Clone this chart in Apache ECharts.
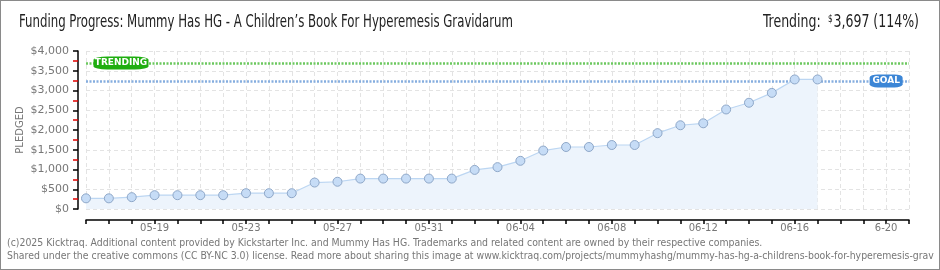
<!DOCTYPE html>
<html>
<head>
<meta charset="utf-8">
<script src="https://cdn.jsdelivr.net/npm/echarts@6/dist/echarts.min.js"></script>
<style>
	html, body { margin: 0; padding: 0; background: #fff; }
	#chart { width: 940px; height: 270px; box-sizing: border-box; border: 1px solid #8a8a8a; }
</style>
</head>
<body>
<div id="chart"></div>
<script>
var dates = [ '05-16', '05-17', '05-18', '05-19', '05-20', '05-21', '05-22',
		'05-23', '05-24', '05-25', '05-26', '05-27', '05-28', '05-29', '05-30',
		'05-31', '06-01', '06-02', '06-03', '06-04', '06-05', '06-06', '06-07',
		'06-08', '06-09', '06-10', '06-11', '06-12', '06-13', '06-14', '06-15',
		'06-16', '06-17', '06-18', '06-19', '06-20', '06-21' ];
// only every 4th day gets a label, the last one is cut to "6-20" in the original
var tickLabels = { '05-19' : '05-19', '05-23' : '05-23', '05-27' : '05-27',
		'05-31' : '05-31', '06-04' : '06-04', '06-08' : '06-08',
		'06-12' : '06-12', '06-16' : '06-16', '06-20' : '6-20' };
var pledged = [ 270, 270, 300, 350, 350, 350, 350, 400, 400, 400, 670, 690,
		770, 770, 770, 770, 770, 990, 1060, 1220, 1480, 1570, 1570, 1620, 1620,
		1920, 2120, 2170, 2520, 2690, 2940, 3280, 3280 ];
var goal = 3243;
var trending = 3697;
var yTicks = [ 0, 500, 1000, 1500, 2000, 2500, 3000, 3500, 4000 ];

var titleText = 'Funding Progress: Mummy Has HG - A Children\u2019s Book For Hyperemesis Gravidarum';
var titleFont = '17px "DejaVu Sans Condensed"';

// the original title font is very narrow, squeeze ours to the same width
function squeeze(text, font, width) {
	var ctx = document.createElement('canvas').getContext('2d');
	ctx.font = font;
	return width / ctx.measureText(text).width;
}

var chart = echarts.init(document.getElementById('chart'));
var option = {
	animation : false,
	textStyle : {
		fontFamily : 'DejaVu Sans'
	},
	graphic : [ {
		type : 'text',
		x : 18,
		y : 13,
		scaleX : squeeze(titleText, titleFont, 494),
		style : {
			text : titleText,
			font : titleFont,
			fill : '#222'
		}
	}, {
		type : 'text',
		x : 918,
		y : 13,
		scaleX : 0.82,
		style : {
			text : 'Trending: {s|$}3,697 (114%)',
			font : titleFont,
			fill : '#222',
			align : 'right',
			rich : {
				s : {
					fontFamily : 'DejaVu Sans Condensed',
					fontSize : 10,
					verticalAlign : 'top',
					padding : [ 0, 1, 6, 4 ]
				}
			}
		}
	}, {
		type : 'text',
		left : 6,
		top : 236,
		style : {
			text : '(c)2025 Kicktraq. Additional content provided by Kickstarter Inc. and Mummy Has HG. Trademarks and related content are owned by their respective companies.\nShared under the creative commons (CC BY-NC 3.0) license. Read more about sharing this image at www.kicktraq.com/projects/mummyhashg/mummy-has-hg-a-childrens-book-for-hyperemesis-grav',
			font : '10.4px "DejaVu Sans Condensed"',
			fill : '#777',
			lineHeight : 13
		}
	} ],
	grid : {
		left : 85,
		right : 30,
		top : 50,
		bottom : 60
	},
	xAxis : {
		type : 'category',
		data : dates,
		boundaryGap : false,
		offset : 11,
		axisLine : {
			onZero : false,
			lineStyle : {
				color : '#000',
				width : 1.5
			}
		},
		axisTick : {
			show : true,
			interval : 0,
			length : 4,
			lineStyle : {
				color : '#000',
				width : 1.5
			}
		},
		axisLabel : {
			interval : function(i, v) {
				return tickLabels[v] !== undefined;
			},
			formatter : function(v) {
				return tickLabels[v] || '';
			},
			color : '#777',
			fontSize : 10,
			margin : 3
		},
		splitLine : {
			show : true,
			interval : 0,
			lineStyle : {
				color : '#e3e3e3',
				type : [ 4, 3 ]
			}
		}
	},
	yAxis : {
		type : 'value',
		min : 0,
		max : 4000,
		interval : 500,
		offset : 8,
		name : 'PLEDGED',
		nameLocation : 'middle',
		nameRotate : 90,
		nameGap : 53,
		nameMoveOverlap : false,
		nameTextStyle : {
			color : '#777',
			fontSize : 10
		},
		axisLine : {
			show : true,
			lineStyle : {
				color : '#000',
				width : 1.5
			}
		},
		axisTick : {
			show : true,
			length : 5,
			lineStyle : {
				color : '#000',
				width : 1.5
			}
		},
		minorTick : {
			show : true,
			splitNumber : 2,
			length : 5,
			lineStyle : {
				color : '#e00000',
				width : 1.5
			}
		},
		axisLabel : {
			color : '#777',
			fontSize : 11,
			margin : 9,
			formatter : function(v) {
				return yTicks.indexOf(v) >= 0 ? '$' + v.toLocaleString('en-US') : '';
			}
		},
		splitLine : {
			lineStyle : {
				color : '#e3e3e3',
				type : [ 4, 3 ]
			}
		}
	},
	series : [ {
		name : 'Pledged',
		type : 'line',
		data : pledged,
		symbol : 'circle',
		symbolSize : 9,
		z : 5,
		itemStyle : {
			color : '#c6dcf6',
			borderColor : '#8ea7c8',
			borderWidth : 1
		},
		lineStyle : {
			color : '#bcd6f2',
			width : 1.2
		},
		areaStyle : {
			color : '#edf4fc',
			opacity : 1
		},
		markLine : {
			silent : true,
			symbol : 'none',
			label : {
				show : false
			},
			data : [ {
				yAxis : trending,
				lineStyle : {
					color : '#6cc85f',
					width : 2.5,
					type : [ 2, 1.5 ]
				}
			}, {
				yAxis : goal,
				lineStyle : {
					color : '#86aedf',
					width : 2.5,
					type : [ 2, 1.5 ]
				}
			} ]
		},
		markPoint : {
			silent : true,
			data : [ {
				coord : [ '05-16', trending ],
				symbol : 'roundRect',
				symbolSize : [ 55, 13 ],
				symbolOffset : [ 35, 0 ],
				itemStyle : {
					color : '#1fae10'
				},
				label : {
					show : true,
					formatter : 'TRENDING',
					color : '#fff',
					fontSize : 9,
					fontWeight : 'bold',
					fontFamily : 'DejaVu Sans'
				}
			}, {
				coord : [ '06-20', goal ],
				symbol : 'roundRect',
				symbolSize : [ 33, 13 ],
				itemStyle : {
					color : '#3c86d6'
				},
				label : {
					show : true,
					formatter : 'GOAL',
					color : '#fff',
					fontSize : 9,
					fontWeight : 'bold',
					fontFamily : 'DejaVu Sans'
				}
			} ]
		}
	} ]
};
chart.setOption(option);
</script>
</body>
</html>
